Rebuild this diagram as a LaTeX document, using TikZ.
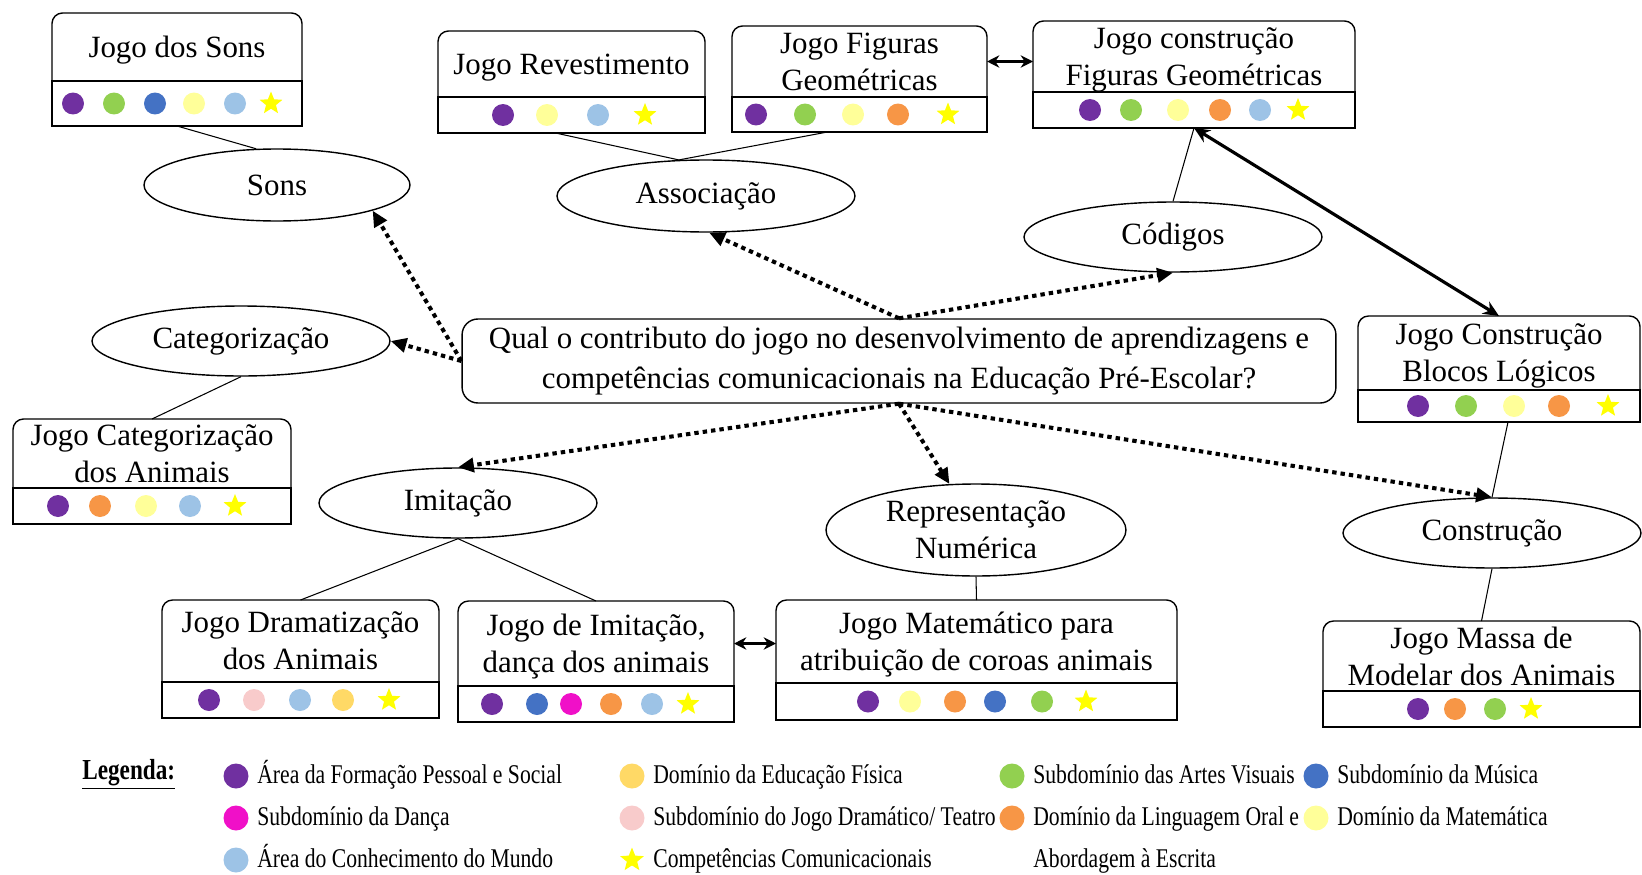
\documentclass[tikz,border=0pt]{standalone}
\usepackage{fontspec}
\setmainfont{Liberation Serif}
\newfontfamily\legfont[FakeStretch=0.8]{Liberation Serif}
\usetikzlibrary{shapes.geometric, arrows.meta, positioning, calc}

\newcommand{\titlefont}{\fontsize{17.6}{21}\selectfont}
\newcommand{\legendfont}{\legfont\fontsize{15.4}{18}\selectfont}

\definecolor{cRoxo}{HTML}{7030A0}
\definecolor{cVerde}{HTML}{92D050}
\definecolor{cAzul}{HTML}{4472C4}
\definecolor{cAmarelo}{HTML}{FFFF99}
\definecolor{cCeu}{HTML}{9DC3E6}
\definecolor{cLaranja}{HTML}{F79646}
\definecolor{cDourado}{HTML}{FFD966}
\definecolor{cRosa}{HTML}{F8CBCB}
\definecolor{cMagenta}{HTML}{F010C8}
\definecolor{cEstrela}{HTML}{FFFF00}

\tikzset{
  titulo/.style={rectangle, inner sep=0pt, outer sep=0pt, align=center, font=\titlefont, text depth=0pt},
  faixa/.style={rectangle, draw, line width=0.8pt, inner sep=0pt, outer sep=0pt},
  tema/.style={ellipse, draw, line width=0.8pt, inner sep=0pt, align=center, font=\titlefont,
    minimum width=5.96cm, minimum height=1.4cm},
  pergunta/.style={rectangle, rounded corners=9pt, draw, line width=0.8pt, align=center,
    font=\fontsize{17.6}{23}\selectfont, inner sep=0pt},
  liga/.style={line width=0.6pt},
  seta/.style={{Stealth[length=7pt,width=7pt]}-{Stealth[length=7pt,width=7pt]}, line width=1.3pt},
  seta grossa/.style={{Stealth[length=9pt,width=8pt]}-{Stealth[length=9pt,width=8pt]}, line width=1.8pt},
  pontilhado/.style={-{Triangle[length=9pt,width=8pt]}, line width=2.3pt, dash pattern=on 2.5pt off 2.3pt},
  bola/.style={circle, inner sep=0pt, minimum size=0.44cm},
  broxo/.style={bola, fill=cRoxo},
  bverde/.style={bola, fill=cVerde},
  bazul/.style={bola, fill=cAzul},
  bamarelo/.style={bola, fill=cAmarelo},
  bceu/.style={bola, fill=cCeu},
  blaranja/.style={bola, fill=cLaranja},
  bdourado/.style={bola, fill=cDourado},
  brosa/.style={bola, fill=cRosa},
  bmagenta/.style={bola, fill=cMagenta},
  estrela/.style={star, star points=5, star point ratio=2.3, inner sep=0pt, minimum size=0.48cm, fill=cEstrela},
  legtexto/.style={anchor=base west, inner sep=0pt, font=\legendfont}
}

% game box: name, centre x, top y, width, title height, strip height, title
\newcommand{\jogo}[7]{%
  \node[titulo, minimum width=#4*0.02cm, minimum height=#5*0.02cm, anchor=north] (#1) at (#2,#3) {#7};
  \node[faixa, minimum width=#4*0.02cm, minimum height=#6*0.02cm, anchor=north] (#1-d) at (#1.south) {};
  \draw[line width=0.8pt, rounded corners=6pt] (#1.south west) |- (#1.north) -| (#1.south east);
}
% coloured marks in the strip of a box
\newcommand{\marcas}[2]{%
  \foreach \xx/\cc in {#2} \node[\cc] at (\xx,0 |- #1-d.center) {};
}

\begin{document}
\begin{tikzpicture}[x=0.02cm, y=-0.02cm]
  \useasboundingbox (0,0) rectangle (1642,875);

  % Question
  \node[pergunta, minimum width=17.48cm, minimum height=1.68cm] (q) at (899,361)
    {Qual o contributo do jogo no desenvolvimento de aprendizagens e\\
     competências comunicacionais na Educação Pré-Escolar?};

  % Themes
  \node[tema, minimum width=5.32cm, minimum height=1.44cm] (sons) at (277,185) {Sons};
  \node[tema, minimum height=1.44cm] (assoc) at (706,196) {Associação};
  \node[tema] (codigos) at (1173,237) {Códigos};
  \node[tema] (categ) at (241,341) {Categorização};
  \node[tema, minimum width=5.56cm] (imit) at (458,503) {Imitação};
  \node[tema, minimum width=6cm, minimum height=1.84cm] (repr) at (976,530) {Representação\\Numérica};
  \node[tema] (constr) at (1492,533) {Construção};

  % Games
  \jogo{jsons}{177}{13}{250}{68}{45}{Jogo dos Sons}
  \jogo{jrev}{571.5}{31}{267}{66}{36}{Jogo Revestimento}
  \jogo{jfig}{859.5}{26}{255}{71}{35}{Jogo Figuras\\Geométricas}
  \jogo{jcfig}{1194}{21}{322}{71}{36}{Jogo construção\\Figuras Geométricas}
  \jogo{jcat}{152}{419}{278}{69}{36}{Jogo Categorização\\dos Animais}
  \jogo{jblocos}{1499}{316}{282}{74}{32}{Jogo Construção\\Blocos Lógicos}
  \jogo{jdram}{300.5}{600}{277}{82}{36}{Jogo Dramatização\\dos Animais}
  \jogo{jimit}{596}{601}{276}{85}{36}{Jogo de Imitação,\\dança dos animais}
  \jogo{jmat}{976.5}{600}{401}{83}{37}{Jogo Matemático para\\atribuição de coroas animais}
  \jogo{jmassa}{1481.5}{621}{317}{70}{36}{Jogo Massa de\\Modelar dos Animais}

  \marcas{jsons}{73/broxo, 114/bverde, 155/bazul, 194/bamarelo, 235/bceu, 271/estrela}
  \marcas{jrev}{503/broxo, 547/bamarelo, 598/bceu, 645/estrela}
  \marcas{jfig}{756/broxo, 805/bverde, 853/bamarelo, 898/blaranja, 948/estrela}
  \marcas{jcfig}{1090/broxo, 1131/bverde, 1178/bamarelo, 1220/blaranja, 1260/bceu, 1298/estrela}
  \marcas{jcat}{58/broxo, 100/blaranja, 146/bamarelo, 190/bceu, 235/estrela}
  \marcas{jblocos}{1418/broxo, 1466/bverde, 1514/bamarelo, 1559/blaranja, 1608/estrela}
  \marcas{jdram}{209/broxo, 254/brosa, 300/bceu, 343/bdourado, 389/estrela}
  \marcas{jimit}{492/broxo, 537/bazul, 571/bmagenta, 611/blaranja, 652/bceu, 688/estrela}
  \marcas{jmat}{868/broxo, 910/bamarelo, 955/blaranja, 995/bazul, 1042/bverde, 1086/estrela}
  \marcas{jmassa}{1418/broxo, 1455/blaranja, 1495/bverde, 1531/estrela}

  % Plain links
  \draw[liga] (jsons-d.south) -- (sons.120);
  \draw[liga] ($(jrev-d.south)+(-16,0)$) -- (assoc.127);
  \draw[liga] ($(jfig-d.south)+(-32,0)$) -- (assoc.127);
  \draw[liga] (codigos.north) -- (jcfig-d.south);
  \draw[liga] (categ.south) -- (jcat.north);
  \draw[liga] (imit.south) -- (jdram.north);
  \draw[liga] (imit.south) -- (jimit.north);
  \draw[liga] (repr.south) -- (jmat.north);
  \draw[liga] (constr.north) -- ($(jblocos-d.south)+(9,0)$);
  \draw[liga] (constr.south) -- (jmassa.north);

  % Double arrows
  \draw[seta] (jfig.east) -- (jfig.east -| jcfig.west);
  \draw[seta] (jimit.east) -- (jimit.east -| jmat.west);
  \draw[seta grossa] (jcfig-d.south) -- (jblocos.north);

  % Dotted arrows from the question
  \draw[pontilhado] (q.north) -- (assoc.-85);
  \draw[pontilhado] (q.north) -- (codigos.south);
  \draw[pontilhado] (q.west) -- (sons.-15);
  \draw[pontilhado] (q.west) -- (categ.east);
  \draw[pontilhado] (q.south) -- (imit.north);
  \draw[pontilhado] (q.south) -- (repr.120);
  \draw[pontilhado] (q.south) -- (constr.north);

  % Legend
  \node[legtexto, font=\legfont\fontsize{16.5}{18}\selectfont\bfseries] (leg) at (82,779) {\underline{Legenda:}};
  \foreach \cc/\xx/\yy/\txt [count=\i] in {
      broxo/236/776/{Área da Formação Pessoal e Social},
      bmagenta/236/818/{Subdomínio da Dança},
      bceu/236/860/{Área do Conhecimento do Mundo},
      bdourado/632/776/{Domínio da Educação Física},
      brosa/632/818/{Subdomínio do Jogo Dramático/ Teatro},
      estrela/632/860/{Competências Comunicacionais},
      bverde/1012/776/{Subdomínio das Artes Visuais},
      blaranja/1012/818/{Domínio da Linguagem Oral e},
      bazul/1316/776/{Subdomínio da Música},
      bamarelo/1316/818/{Domínio da Matemática}} {
    \node[\cc, minimum size=0.5cm] (ld\i) at (\xx,\yy) {};
    \node[legtexto] (lt\i) at ([xshift=0.42cm, yshift=-4pt]ld\i.center) {\txt};
  }
  \node[legtexto] (lt11) at (lt8.base west |- lt3.base west) {Abordagem à Escrita};
\end{tikzpicture}
\end{document}
